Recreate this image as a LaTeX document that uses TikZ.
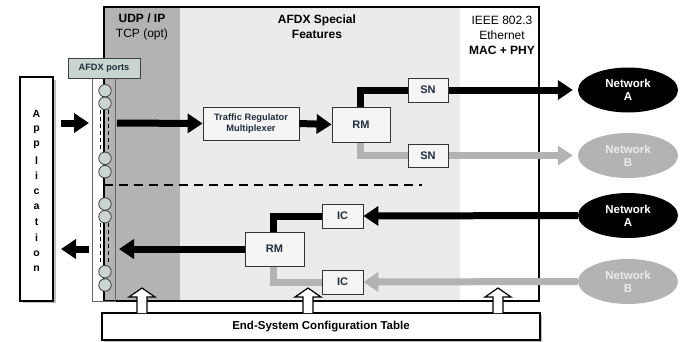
\documentclass[tikz,border=0pt]{standalone}
\usepackage{fontspec}
\setmainfont{Liberation Sans}
\usetikzlibrary{arrows.meta,shapes.geometric}
\definecolor{darkcol}{HTML}{B3B3B3}
\definecolor{lightcol}{HTML}{EBEBEB}
\definecolor{graypath}{HTML}{B3B3B3}
\definecolor{portfill}{HTML}{C9D5CE}
\definecolor{boxtext}{HTML}{1F2D3D}
\definecolor{boxfill}{HTML}{F5F5F5}
\tikzset{
  fbox/.style={draw=black!80, line width=0.8pt, fill=boxfill, inner sep=0pt, align=center,
     text=boxtext, font=\fontsize{11}{12}\selectfont\bfseries},
  net/.style={ellipse, minimum width=100pt, minimum height=45pt, inner sep=0pt, align=center,
     font=\fontsize{11.5}{13}\selectfont\bfseries},
  blackpath/.style={line width=7pt, black},
  graypathst/.style={line width=7pt, graypath},
  bigarrow/.style={-{Triangle[width=19pt,length=15pt]}},
  portc/.style={circle, draw=black!75, line width=0.8pt, fill=portfill, minimum size=12.5pt, inner sep=0pt},
  hdr/.style={align=center, font=\fontsize{12}{15}\selectfont},
  hollow/.style={draw=black, line width=1.2pt, fill=white},
}
\begin{document}
\begin{tikzpicture}[x=1pt,y=-1pt]
\useasboundingbox (0,0) rectangle (697,341);
% background regions
\fill[darkcol] (104,7) rectangle (180,301);
\fill[lightcol] (180,7) rectangle (460,301);
% main outline
\draw[line width=1.6pt] (104,7) rectangle (539,301);
% headers
\node[hdr] (udp) at (142,27) {\textbf{UDP / IP}\\TCP (opt)};
\node[hdr] (afdx) at (317,27) {\textbf{AFDX Special}\\\textbf{Features}};
\node[hdr] (ieee) at (502,35) {IEEE 802.3\\Ethernet\\\textbf{MAC + PHY}};
% port column
\fill[white] (92,78) rectangle (104,301);
\draw[black!60, line width=0.7pt] (92,78) rectangle (115,301);
\draw[line width=1.6pt] (104,78) -- (104,301);
\foreach \y in {110,223}{
  \draw[line width=1pt, dash pattern=on 4pt off 3pt] (100.5,\y) -- (100.5,\y+42);
  \draw[line width=1pt, dash pattern=on 4pt off 3pt] (108.5,\y) -- (108.5,\y+42);
}
\foreach \n/\y in {p1/90.7,p2/103.3,p3/158.3,p4/171.7,p5/204,p6/216.7,p7/271.7,p8/285}{
  \node[portc] (\n) at (105,\y) {};
}
\node[draw=black!75, line width=0.8pt, fill=portfill, minimum width=72pt, minimum height=20pt, inner sep=0pt,
  font=\fontsize{9.2}{10}\selectfont\bfseries, text=boxtext] (ports) at (104,68) {AFDX ports};
% dashed separator
\coordinate (sepL) at (104,185);
\coordinate (sepR) at (422,185);
\draw[line width=1.8pt, dash pattern=on 9pt off 6pt] (sepL) -- (sepR);
% application
\fill[black!25] (23,80) rectangle (55.5,303);
\node[draw=black, line width=2pt, fill=white, minimum width=33pt, minimum height=224pt, inner sep=0pt] (app) at (36.5,189) {};
\foreach \c [count=\i from 0] in {A,p,p,l,i,c,a,t,i,o,n}{
  \node[font=\fontsize{10.5}{11}\selectfont\bfseries, inner sep=0pt] (app\i) at (36.5,114+15.5*\i) {\c};
}
% boxes
\node[fbox, minimum width=96pt, minimum height=33pt, font=\fontsize{9.3}{11}\selectfont\bfseries] (tr) at (251,123.5) {Traffic Regulator\\Multiplexer};
\node[fbox, minimum width=58pt, minimum height=35pt] (rmt) at (361,124.5) {RM};
\node[fbox, minimum width=40pt, minimum height=24pt] (snA) at (428,90) {SN};
\node[fbox, minimum width=40pt, minimum height=23pt] (snB) at (428,155.5) {SN};
\node[fbox, minimum width=41pt, minimum height=24pt] (icA) at (342.5,216) {IC};
\node[fbox, minimum width=41pt, minimum height=24pt] (icB) at (342.5,282) {IC};
\node[fbox, minimum width=59pt, minimum height=34pt] (rmb) at (274.5,249) {RM};
% networks
\node[net, fill=black, text=white] (netA1) at (628,90) {Network\\A};
\node[net, fill=graypath, text=white!92!black] (netB1) at (628,155.5) {Network\\B};
\node[net, fill=black, text=white] (netA2) at (628,215.5) {Network\\A};
\node[net, fill=graypath, text=white!92!black] (netB2) at (628,281.5) {Network\\B};
% coordinates
\coordinate (appout) at (61,123);
\coordinate (portin) at (89,123);
\coordinate (portout) at (117,123);
\coordinate (portrx) at (119,249);
\coordinate (portlx) at (89,249);
\coordinate (appin) at (61,249);
% connectors
\draw[blackpath, bigarrow] (appout) -- (portin);
\draw[blackpath, bigarrow] (portout) -- (tr.west);
\draw[blackpath, bigarrow] (tr.east) -- (rmt.west);
\draw[blackpath, line join=miter] ([xshift=-1pt]rmt.north) |- (snA.west);
\draw[graypathst, line join=miter] ([xshift=-1pt]rmt.south) |- (snB.west);
\draw[blackpath, bigarrow, shorten >=5pt] (snA.east) -- (netA1.west);
\draw[graypathst, bigarrow, shorten >=5pt] (snB.east) -- (netB1.west);
\draw[blackpath, bigarrow] (netA2.west) -- (icA.east);
\draw[graypathst, bigarrow] (netB2.west) -- (icB.east);
\draw[blackpath, line join=miter] (icA.west) -| ([xshift=-1pt]rmb.north);
\draw[graypathst, line join=miter] (icB.west) -| ([xshift=-1pt]rmb.south);
\draw[blackpath, bigarrow] (rmb.west) -- (portrx);
\draw[blackpath, bigarrow] (portlx) -- (appin);
% redraw boxes on top of path ends
\node[fbox, minimum width=58pt, minimum height=35pt] at (rmt) {RM};
\node[fbox, minimum width=40pt, minimum height=24pt] at (snA) {SN};
\node[fbox, minimum width=40pt, minimum height=23pt] at (snB) {SN};
\node[fbox, minimum width=41pt, minimum height=24pt] at (icA) {IC};
\node[fbox, minimum width=41pt, minimum height=24pt] at (icB) {IC};
\node[fbox, minimum width=59pt, minimum height=34pt] at (rmb) {RM};
% config table
\fill[black!25] (104,315) rectangle (542,342);
\node[draw=black, line width=1.8pt, fill=white, minimum width=438pt, minimum height=27pt, inner sep=0pt,
  font=\fontsize{11.5}{13}\selectfont\bfseries] (cfg) at (321,326.5) {End-System Configuration Table};
% hollow arrows
\foreach \x in {142,308,498}{
  \draw[hollow] (\x-5,313) -- (\x-5,297) -- (\x-13,297) -- (\x,288) -- (\x+13,297) -- (\x+5,297) -- (\x+5,313);
}
\end{tikzpicture}
\end{document}
